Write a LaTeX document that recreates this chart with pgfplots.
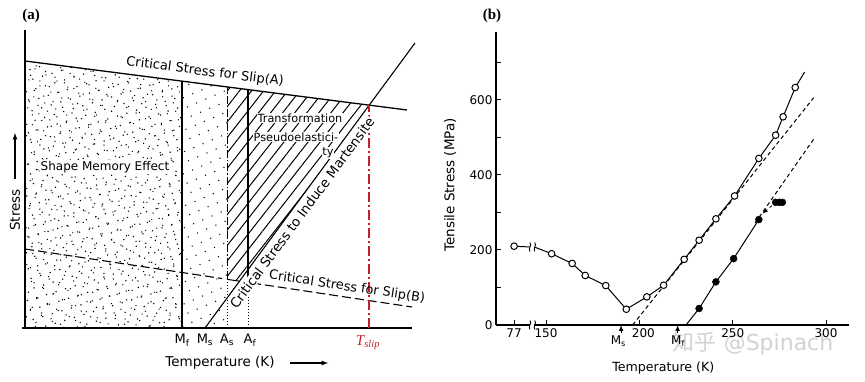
\documentclass[border=0pt]{standalone}
\usepackage{fontspec}
\setmainfont{DejaVu Sans}
\newfontfamily\serifb{Liberation Serif}
\newfontfamily\cjk{Noto Sans CJK SC}
\usepackage{pgfplots}
\pgfplotsset{compat=1.18}
\usetikzlibrary{patterns.meta}
\definecolor{slipred}{RGB}{192,32,38}
\newcommand{\fs}[1]{\fontsize{#1}{#1}\selectfont}

\begin{document}
\begin{tikzpicture}
\path[use as bounding box] (0pt,0pt) rectangle (865pt,382pt);
% ---------------- panel (a), pixel coordinates ----------------
\begin{axis}[at={(0pt,0pt)}, anchor=south west, scale only axis,
  width=865pt, height=382pt, xmin=0, xmax=865, ymin=0, ymax=382,
  axis lines=none, clip=false]
% stipple
\addplot[draw=none, pattern={Dots[distance=10pt, radius=0.8pt, angle=17]}] coordinates {(25,54) (25,321) (182,300.9) (182,54) (25,54)};
\addplot[draw=none, pattern={Dots[distance=11pt, radius=0.75pt, angle=-31, xshift=2pt, yshift=3pt]}] coordinates {(25,54) (25,321) (182,300.9) (182,54) (25,54)};
\addplot[draw=none, pattern={Dots[distance=12.5pt, radius=0.7pt, angle=61, xshift=5pt, yshift=1pt]}] coordinates {(25,54) (25,321) (182,300.9) (182,54) (25,54)};
\addplot[draw=none, pattern={Dots[distance=10pt, radius=0.75pt, angle=23]}] coordinates {(182,54) (182,300.9) (227,295.1) (227,54) (182,54)};
% hatch
\addplot[draw=none, pattern={Lines[angle=52, distance=9.5pt, line width=1pt]}] coordinates {(227,295.1) (369.2,276.8) (239.5,100.8) (227,102.7) (227,295.1)};
% frame
\addplot[black, line width=1.2pt] coordinates {(25,54) (25,352)};
\addplot[black, line width=1.2pt] coordinates {(22,54) (412,54)};
% critical stress for slip A
\addplot[black, line width=1.3pt] coordinates {(25,321) (407,272)};
% critical stress to induce martensite
\addplot[black, line width=1.1pt] coordinates {(205,54) (415,339)};
% critical stress for slip B
\addplot[black, line width=1.1pt, dash pattern=on 9pt off 4pt] coordinates {(25,133) (222,103.5)};
\addplot[black, line width=1.1pt, dash pattern=on 9pt off 4pt] coordinates {(252,99) (412,75)};
\addplot[black, line width=1pt] coordinates {(227,102.7) (239.5,100.8)};
% Mf, As, Af
\addplot[black, line width=1.6pt] coordinates {(182,54) (182,300.9)};
\addplot[black, line width=1pt, dash pattern=on 8pt off 2pt on 1.5pt off 2pt] coordinates {(227,102.7) (227,295.1)};
\addplot[black, line width=1pt, dash pattern=on 1pt off 2pt] coordinates {(227,54) (227,102.7)};
\addplot[black, line width=1.1pt] coordinates {(248,99.6) (248,292.4)};
\addplot[black, line width=1pt, dash pattern=on 1pt off 2pt] coordinates {(248,54) (248,99.6)};
% T slip
\addplot[slipred, line width=1.5pt, dash pattern=on 10pt off 3pt on 2pt off 3pt] coordinates {(369.2,54) (369.2,276.8)};
% texts
\node[font=\fs{13}, rotate=-7.3] at (axis cs:205,310) {Critical Stress for Slip(A)};
\node[font=\fs{11.3}, fill=white, inner sep=0.8pt] at (axis cs:300,264) {Transformation};
\node[font=\fs{11.3}, fill=white, inner sep=0.8pt] at (axis cs:296,245) {Pseudoelastici-};
\node[font=\fs{11.3}, fill=white, inner sep=0.8pt] at (axis cs:328,229) {ty};
\node[font=\fs{12}, fill=white, inner sep=1pt] at (axis cs:105,215) {Shape Memory Effect};
\node[font=\fs{13.3}, rotate=53.6, fill=white, inner sep=0.8pt] at (axis cs:302,169) {Critical Stress to Induce Martensite};
\node[font=\fs{12.9}, rotate=-8.5] at (axis cs:347,95) {Critical Stress for Slip(B)};
\node[font=\fs{13}] at (axis cs:182,42) {M\textsubscript{f}};
\node[font=\fs{13}] at (axis cs:205,42) {M\textsubscript{s}};
\node[font=\fs{13}] at (axis cs:227,42) {A\textsubscript{s}};
\node[font=\fs{13}] at (axis cs:250,42) {A\textsubscript{f}};
\node[text=slipred, font=\serifb\itshape\fs{15}] at (axis cs:368,39) {T\textsubscript{slip}};
\node[font=\fs{13.5}] at (axis cs:220,19) {Temperature (K)};
\draw[-latex, line width=1.2pt] (axis cs:290,19) -- (axis cs:328,19);
\node[font=\fs{13.5}, rotate=90] at (axis cs:15,172) {Stress};
\draw[-latex, line width=1.2pt] (axis cs:15,203) -- (axis cs:15,249);
\node[font=\serifb\bfseries\fs{15}] at (axis cs:31,366) {(a)};
\node[font=\serifb\bfseries\fs{15}] at (axis cs:492,366) {(b)};
\node[text=gray!35, font=\fs{22}] at (axis cs:753,38) {{\cjk 知乎} @Spinach};
\end{axis}
% ---------------- panel (b) ----------------
\begin{axis}[at={(496pt,57pt)}, anchor=south west, scale only axis,
  width=353pt, height=293pt, xmin=123.2, xmax=312.3, ymin=0, ymax=781,
  axis lines=left, axis line style={-, line width=1.1pt},
  tick align=inside, xtick={132.9,150,200,250,300},
  xticklabels={77,150,\hspace*{8pt}200,250,300},
  ytick={0,200,400,600}, minor ytick={100,300,500,700},
  major tick length=5pt, minor tick length=5pt,
  tick style={line width=1pt, black},
  /pgf/number format/assume math mode=true,
  ticklabel style={font=\fs{12}},
  xlabel={Temperature (K)}, ylabel={Tensile Stress (MPa)},
  xlabel style={at={(axis description cs:0.474,-0.148)}, anchor=center, font=\fs{12.6}},
  ylabel style={at={(axis description cs:-0.13,0.478)}, anchor=center, font=\fs{13.5}},
  clip=false]
\addplot[black, line width=1pt, dash pattern=on 4pt off 3pt] coordinates {(196.4,0) (293.4,606)};
\addplot[black, line width=1pt, dash pattern=on 4pt off 3pt] coordinates {(262,272) (294,500)};
\draw[-latex, dashed, line width=0.8pt] (axis cs:271,318) -- (axis cs:266,297);
% 77 K segment with break
\addplot[black, line width=1pt] coordinates {(132.9,210) (141.2,208)};
\addplot[black, line width=1pt] coordinates {(144.2,207) (153,190)};
\draw[line width=0.9pt] (axis cs:141.4,196) .. controls (axis cs:140.2,204) and (axis cs:142.6,212) .. (axis cs:141.4,220);
\draw[line width=0.9pt] (axis cs:144.0,196) .. controls (axis cs:142.8,204) and (axis cs:145.2,212) .. (axis cs:144.0,220);
% axis break
\fill[white] (axis cs:141.6,-8) rectangle (axis cs:143.8,8);
\draw[line width=0.9pt] (axis cs:141.4,-12) .. controls (axis cs:140.2,-4) and (axis cs:142.6,4) .. (axis cs:141.4,12);
\draw[line width=0.9pt] (axis cs:144.0,-12) .. controls (axis cs:142.8,-4) and (axis cs:145.2,4) .. (axis cs:144.0,12);
% open circles series
\addplot[black, line width=1pt] coordinates {(283.5,633) (288.5,674)};
\addplot[black, line width=1pt, mark=*, mark size=3.3pt, mark options={fill=white, line width=1pt}] coordinates {
(153,190) (164,164) (171,132) (182,105) (193,42) (204,75) (213,106) (224,175) (232,226) (241,283) (251,344) (264,444) (273,506) (277,555) (283.5,633)};
\addplot[only marks, black, mark=*, mark size=3.3pt, mark options={fill=white, line width=1pt}] coordinates {(132.9,210)};
% filled circles series
\addplot[black, line width=1pt] coordinates {(225,0) (232,44) (241,115) (250.5,177) (264,281)};
\addplot[only marks, black, mark=*, mark size=3.5pt, mark options={fill=black}] coordinates {
(232,44) (241,115) (250.5,177) (264,281) (273,327) (275,327) (276.6,327)};
% Ms, Mf markers
\draw[-latex, line width=1pt] (axis cs:190.2,-22) -- (axis cs:190.2,0);
\draw[-latex, line width=1pt] (axis cs:220.5,-22) -- (axis cs:220.5,0);
\node[font=\fs{12}] at (axis cs:188.7,-44) {M\textsubscript{s}};
\node[font=\fs{12}] at (axis cs:220.7,-42) {M\textsubscript{f}};
\end{axis}
\end{tikzpicture}
\end{document}
